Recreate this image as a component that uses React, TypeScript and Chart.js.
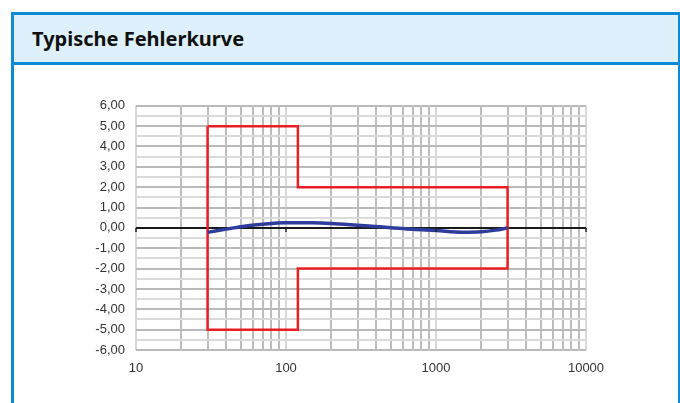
import React, { useEffect, useRef } from "react";
import { Chart, registerables } from "chart.js";

Chart.register(...registerables);

const title = "Typische Fehlerkurve";

// Tolerance envelope (frequency, error %)
const limitX = [30, 120, 120, 3000, 3000, 120, 120, 30, 30];
const limitY = [5, 5, 2, 2, -2, -2, -5, -5, 5];

// Typical error curve
const curveX = [30, 40, 50, 70, 100, 150, 200, 300, 500, 700, 1000, 1500, 2000, 2500, 3000];
const curveY = [-0.22, -0.06, 0.06, 0.18, 0.25, 0.25, 0.22, 0.13, 0.01, -0.07, -0.13, -0.21, -0.19, -0.11, 0.0];

// Axis definitions
const xGridValues = [
  10, 20, 30, 40, 50, 60, 70, 80, 90,
  100, 200, 300, 400, 500, 600, 700, 800, 900,
  1000, 2000, 3000, 4000, 5000, 6000, 7000, 8000, 9000,
  10000,
];
const xLabelValues = [10, 100, 1000, 10000];
const yMin = -6;
const yMax = 6;
const yStep = 0.5;

function ChartBox() {
  const ref = useRef<HTMLCanvasElement | null>(null);
  useEffect(() => {
    if (!ref.current) return;
    const axisTicksPlugin = {
      id: "axisTicks",
      afterDatasetsDraw(chart: any) {
        const { ctx, scales } = chart;
        const x = scales.x;
        const y = scales.y;
        const y0 = y.getPixelForValue(0);
        ctx.save();
        ctx.strokeStyle = "#222";
        ctx.lineWidth = 1.5;
        xLabelValues.forEach((v) => {
          const px = x.getPixelForValue(v);
          ctx.beginPath();
          ctx.moveTo(px, y0);
          ctx.lineTo(px, y0 + 4);
          ctx.stroke();
        });
        ctx.restore();
      },
    };
    const chart = new Chart(ref.current, {
      type: "line",
      data: {
        datasets: [
          {
            label: "Typische Fehlerkurve",
            data: curveX.map((x, i) => ({ x, y: curveY[i] })),
            borderColor: "#2e3c9c",
            borderWidth: 3.5,
            pointRadius: 0,
            cubicInterpolationMode: "monotone",
            fill: false,
          },
          {
            label: "Grenzen",
            data: limitX.map((x, i) => ({ x, y: limitY[i] })),
            borderColor: "#ea1f25",
            borderWidth: 2.5,
            pointRadius: 0,
            tension: 0,
            fill: false,
          },
        ],
      },
      options: {
        animation: false,
        responsive: false,
        maintainAspectRatio: false,
        layout: { padding: { left: 0, right: 34, top: 2, bottom: 10 } },
        plugins: { legend: { display: false }, tooltip: { enabled: false } },
        scales: {
          x: {
            type: "logarithmic",
            min: 10,
            max: 10000,
            afterBuildTicks: (scale: any) => {
              scale.ticks = xGridValues.map((v) => ({ value: v }));
            },
            afterFit: (scale: any) => {
              scale.height = 30;
            },
            border: { display: false },
            grid: {
              drawTicks: false,
              tickLength: 0,
              lineWidth: 2,
              color: (c: any) =>
                xLabelValues.includes(c.tick?.value) ? "#d8d8d8" : "#bdbdbd",
            },
            ticks: {
              autoSkip: false,
              maxRotation: 0,
              padding: 11,
              color: "#333",
              font: { family: "'Liberation Sans', Arial, sans-serif", size: 13 },
              callback: (v: any) => (xLabelValues.includes(Number(v)) ? String(v) : ""),
            },
          },
          y: {
            type: "linear",
            min: yMin,
            max: yMax,
            afterFit: (scale: any) => {
              scale.width = 116;
            },
            border: { display: false },
            grid: {
              drawTicks: false,
              tickLength: 0,
              lineWidth: 2,
              color: (c: any) => {
                const v = c.tick?.value;
                if (v === 0) return "#1a1a1a";
                return Number.isInteger(v) ? "#bababa" : "#dadada";
              },
            },
            ticks: {
              stepSize: yStep,
              autoSkip: false,
              padding: 11,
              color: "#333",
              font: { family: "'Liberation Sans', Arial, sans-serif", size: 13 },
              callback: (v: any) => {
                const n = Number(v);
                if (!Number.isInteger(n)) return "";
                return (n === 0 ? 0 : n).toFixed(2).replace(".", ",");
              },
            },
          },
        },
      },
      plugins: [axisTicksPlugin],
    } as any);
    return () => chart.destroy();
  }, []);
  return (
    <canvas
      ref={ref}
      width={600}
      height={303}
      style={{ position: "absolute", left: 20, top: 87, width: 600, height: 303 }}
    />
  );
}

export default function App() {
  return (
    <div style={{ position: "absolute", left: 0, top: 0, width: 680, height: 403, overflow: "hidden", background: "#fff" }}>
      <div
        style={{
          position: "absolute",
          left: 11,
          top: 12,
          width: 664,
          height: 420,
          border: "3px solid #0f8bd6",
          background: "#fff",
        }}
      >
        <div
          style={{
            height: 47,
            background: "#def0fc",
            borderBottom: "3px solid #0f8bd6",
            display: "flex",
            alignItems: "center",
            paddingLeft: 18,
            fontFamily: "'Noto Sans', 'Open Sans', sans-serif",
            fontWeight: 700,
            fontSize: 20,
            color: "#111",
          }}
        >
          {title}
        </div>
      </div>
      <ChartBox />
    </div>
  );
}
